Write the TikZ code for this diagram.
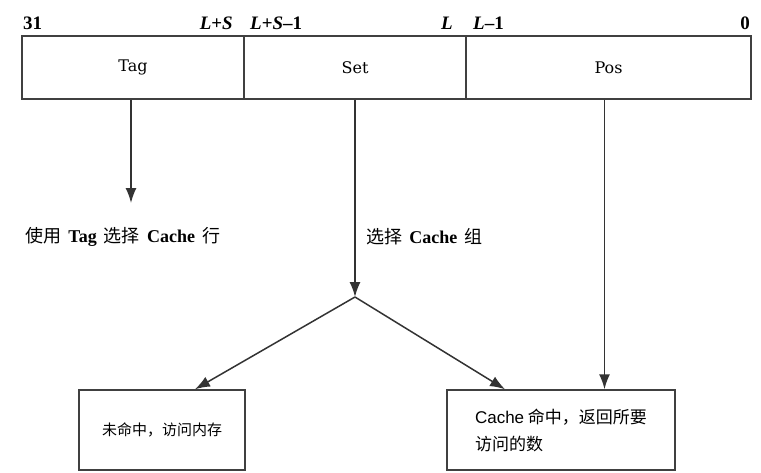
\documentclass[tikz,border=0pt]{standalone}
\usepackage{fontspec}
\setmainfont{Liberation Serif}
\setsansfont{Liberation Sans}
\newfontfamily\cjk{Noto Sans CJK SC}
\newfontfamily\fieldfont{DejaVu Serif}
\usetikzlibrary{arrows.meta}

\newcommand{\gap}{\hspace{0.4em}}

\tikzset{
  field/.style={draw=black!75, line width=1.5pt, minimum height=63pt, inner sep=0pt, font=\fieldfont\fontsize{16}{18}\selectfont},
  bitlbl/.style={inner sep=0pt, font=\fontsize{19}{21}\selectfont\bfseries},
  steplbl/.style={inner sep=0pt, anchor=west, font=\fontsize{18}{20}\selectfont},
  resbox/.style={draw=black!75, line width=1.5pt, minimum height=80pt, inner sep=0pt, font=\fontsize{17}{27}\selectfont\cjk},
  flow/.style={draw=black!80, line width=1.5pt, -{Latex[length=15pt,width=11pt]}}
}

\begin{document}
\begin{tikzpicture}[x=1pt, y=-1pt]
  \useasboundingbox (0,0) rectangle (761,472);
  % address fields
  \node[field, minimum width=222pt] (tag) at (133,67.5) {Tag};
  \node[field, minimum width=222pt] (set) at (355,67.5) {Set};
  \node[field, minimum width=285pt] (pos) at (608.5,67.5) {Pos};
  % bit numbers
  \node[bitlbl, anchor=south west] (b31) at (23,30) {31};
  \node[bitlbl, anchor=south east] (bls) at (233,30) {\textit{L}+\textit{S}};
  \node[bitlbl, anchor=south west] (blsm) at (250,30) {\textit{L}+\textit{S}--1};
  \node[bitlbl, anchor=south east] (bl) at (453,30) {\textit{L}};
  \node[bitlbl, anchor=south west] (blm) at (473,30) {\textit{L}--1};
  \node[bitlbl, anchor=south east] (b0) at (750,30) {0};
  % result boxes
  \node[resbox, minimum width=166pt, font=\fontsize{15}{18}\selectfont\cjk] (miss) at (162,430) {未命中，访问内存};
  \node[resbox, minimum width=228pt, align=left] (hit) at (561,430)
    {{\sffamily\fontsize{17}{27}\selectfont Cache} 命中，返回所要\\访问的数};
  % step labels
  \node[steplbl] (tagtxt) at (25,237) {{\cjk 使用}\gap\textbf{Tag}\gap{\cjk 选择}\gap\textbf{Cache}\gap{\cjk 行}};
  \node[steplbl] (settxt) at (366,237) {{\cjk 选择}\gap\textbf{Cache}\gap{\cjk 组}};
  \coordinate (tagend) at (131,203);
  \coordinate (br) at (355,297);
  % connectors
  \draw[flow] ([xshift=-2pt]tag.south) -- (tagend);
  \draw[flow] (set.south) -- (br);
  \draw[flow] (br) -- ([xshift=33pt]miss.north);
  \draw[flow] (br) -- ([xshift=-56pt]hit.north);
  \draw[flow] ([xshift=-4pt]pos.south) -- ([xshift=-4pt]pos.south |- hit.north);
\end{tikzpicture}
\end{document}
